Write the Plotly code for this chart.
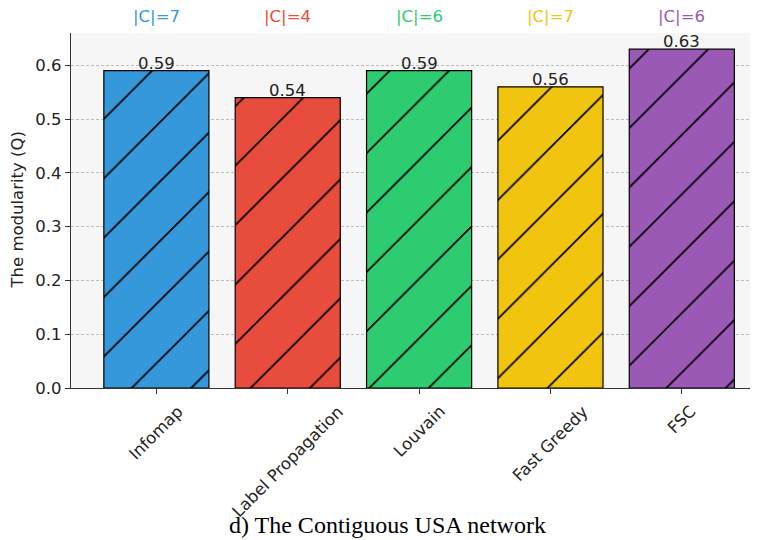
import plotly.graph_objects as go

methods = ["Infomap", "Label Propagation", "Louvain", "Fast Greedy", "FSC"]
modularity = [0.59, 0.54, 0.59, 0.56, 0.63]
communities = [7, 4, 6, 7, 6]
colors = ["#3498db", "#e74c3c", "#2ecc71", "#f1c40f", "#9b59b6"]
yticks = [0.0, 0.1, 0.2, 0.3, 0.4, 0.5, 0.6]

FONT = "DejaVu Sans"
FS = 16.5
xs = list(range(len(methods)))

# the page body adds an 8px offset; size the figure so the plot lands where the reference has it
OFF = 8
W, H = 758 - OFF, 540 - OFF
L, T = 71 - OFF, 33 - OFF
B = H - (388 - OFF)
R = 0
PW, PH = W - L - R, H - T - B

fig = go.Figure()
for i, (v, col) in enumerate(zip(modularity, colors)):
    fig.add_trace(go.Bar(
        x=[i], y=[v], width=0.8,
        marker=dict(
            color=col,
            line=dict(color="black", width=1.2),
            pattern=dict(shape="/", fgcolor="black", bgcolor=col, fillmode="replace",
                         size=42, solidity=0.04, fgopacity=1),
        ),
        showlegend=False,
    ))

annotations = []
for i, (v, c, col, m) in enumerate(zip(modularity, communities, colors, methods)):
    annotations.append(dict(x=i, y=v, xref="x", yref="y", text=f"{v:.2f}", showarrow=False,
                            yanchor="bottom", yshift=-4, font=dict(family=FONT, size=FS, color="#222")))
    annotations.append(dict(x=i, y=1, xref="x", yref="paper", text=f"|C|={c}", showarrow=False,
                            yanchor="middle", yshift=17, font=dict(family=FONT, size=FS, color=col)))
    annotations.append(dict(x=i, y=0, xref="x", yref="paper", text=m, showarrow=False,
                            textangle=-45, xanchor="center", yanchor="top", yshift=-11,
                            font=dict(family=FONT, size=FS, color="#222")))

annotations.append(dict(x=0, y=0.5, xref="paper", yref="paper", text="The modularity (Q)",
                        showarrow=False, textangle=-90, xshift=-54, xanchor="center",
                        font=dict(family=FONT, size=FS, color="#222")))
annotations.append(dict(x=(387 - 71) / PW, y=-(525 - 388) / PH, xref="paper", yref="paper",
                        text="d) The Contiguous USA network", showarrow=False, yanchor="middle",
                        font=dict(family="Liberation Serif", size=24, color="black")))

fig.update_layout(
    width=W, height=H,
    margin=dict(l=L, r=R, t=T, b=B, autoexpand=False),
    paper_bgcolor="white", plot_bgcolor="#f6f6f6",
    barmode="overlay",
    annotations=annotations,
    font=dict(family=FONT, color="#222"),
)
fig.update_xaxes(
    range=[-0.65, 4.58], tickvals=xs, showticklabels=False, automargin=False,
    ticks="outside", ticklen=5, tickcolor="#333", showgrid=False, zeroline=False,
    showline=True, linecolor="#333", linewidth=1.2,
)
fig.update_yaxes(
    range=[0, 0.66], tickvals=yticks, ticktext=[f"{t:.1f}" for t in yticks], automargin=False,
    ticks="outside", ticklen=5, tickcolor="#333",
    showgrid=True, gridcolor="#bdbdbd", griddash="3px,2px", gridwidth=0.7, zeroline=False,
    showline=True, linecolor="#333", linewidth=1.2,
    tickfont=dict(family=FONT, size=FS, color="#222"),
)
fig.write_html("out.html")
